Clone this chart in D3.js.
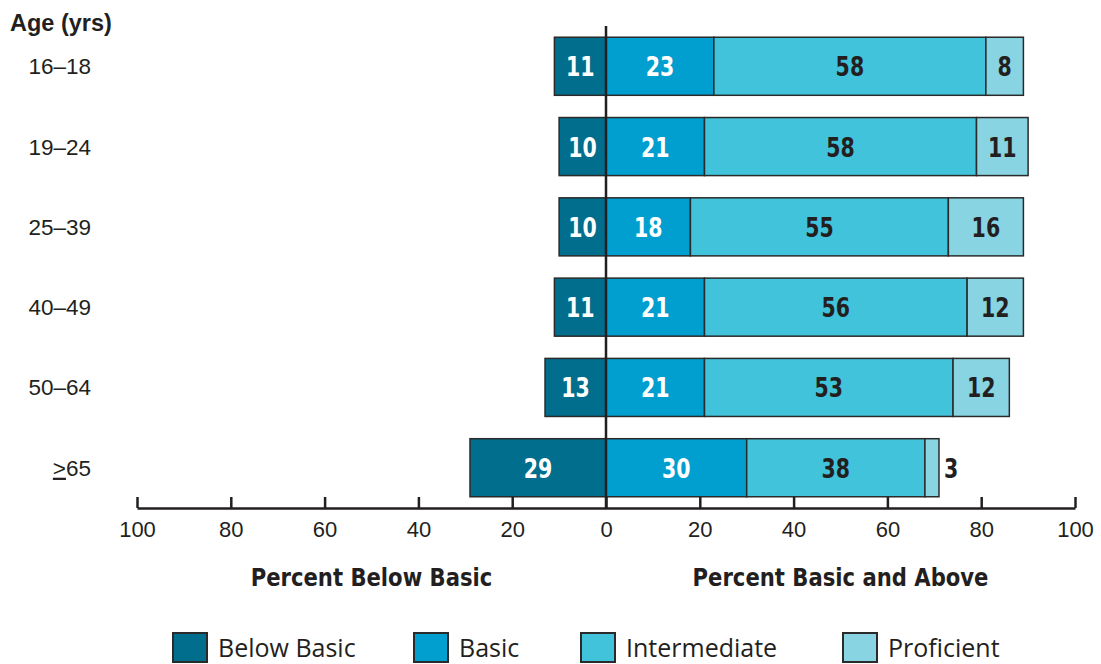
<!DOCTYPE html>
<html><head><meta charset="utf-8">
<script src="https://cdn.jsdelivr.net/npm/d3@7"></script>
<style>body{margin:0;background:#fff}svg{display:block}</style>
</head><body><svg id="c" width="1101" height="664"></svg>
<script>
const ages = ["16–18","19–24","25–39","40–49","50–64","≥65"];
const belowBasic = [11,10,10,11,13,29];
const basic = [23,21,18,21,21,30];
const intermediate = [58,58,55,56,53,38];
const proficient = [8,11,16,12,12,3];
const ticks = [-100,-80,-60,-40,-20,0,20,40,60,80,100];
const seriesNames = ["Below Basic","Basic","Intermediate","Proficient"];
const colors = ["#006e8c","#009fcf","#40c3db","#88d4e3"];

const svg = d3.select("#c");
const x = d3.scaleLinear().domain([-100,100]).range([137,1075]);
const y = d3.scaleBand().domain(ages).range([26,508]).paddingInner(0.277).paddingOuter(0.14);
const dark = "#231f20";
const bold = "'DejaVu Sans',sans-serif";

const rows = ages.map((a,i)=>({age:a, vals:[belowBasic[i],basic[i],intermediate[i],proficient[i]]}));

rows.forEach((r,i)=>{
  const g = svg.append("g");
  const segs = [];
  segs.push({k:0, x0:-r.vals[0], x1:0, v:r.vals[0]});
  let c = 0;
  for(let k=1;k<4;k++){ segs.push({k, x0:c, x1:c+r.vals[k], v:r.vals[k]}); c+=r.vals[k]; }
  g.selectAll("rect").data(segs).join("rect")
    .attr("x",d=>x(d.x0)).attr("width",d=>x(d.x1)-x(d.x0))
    .attr("y",y(r.age)).attr("height",y.bandwidth())
    .attr("fill",d=>colors[d.k]).attr("stroke","#2a2a2a").attr("stroke-width",1.5);
  const cy = y(r.age)+y.bandwidth()/2+10;
  g.selectAll("text").data(segs).join("text")
    .attr("transform",d=>{
      const w = x(d.x1)-x(d.x0);
      const tx = w < 20 ? x(d.x1)+5 : (x(d.x0)+x(d.x1))/2;
      return `translate(${tx},${cy}) scale(0.76,1)`;
    })
    .attr("text-anchor",d=> (x(d.x1)-x(d.x0) < 20) ? "start" : "middle")
    .attr("font-family",bold).attr("font-weight","bold").attr("font-size",27)
    .attr("fill",d=>d.k<2?"#fff":dark)
    .text(d=>d.v);
  const t = svg.append("text").attr("x",91).attr("text-anchor","end").attr("y",y(r.age)+y.bandwidth()/2+8)
    .attr("font-family","'Liberation Sans',Arial,sans-serif").attr("font-size",22.5).attr("fill",dark);
  if(r.age.startsWith("≥")){
    t.append("tspan").attr("text-decoration","underline").text(">");
    t.append("tspan").text(r.age.slice(1));
  } else t.text(r.age);
});

svg.append("text").attr("x",10).attr("y",31).attr("font-family","'Liberation Sans',Arial,sans-serif")
  .attr("font-weight","bold").attr("font-size",23.5).attr("fill",dark).text("Age (yrs)");

svg.append("line").attr("x1",x(0)).attr("x2",x(0)).attr("y1",26).attr("y2",508)
  .attr("stroke",dark).attr("stroke-width",2.5);

const axis = d3.axisBottom(x).tickValues(ticks).tickFormat(d=>Math.abs(d)).tickSizeInner(-11).tickSizeOuter(0).tickPadding(29);
const ag = svg.append("g").attr("transform","translate(0,508)").call(axis);
ag.select(".domain").attr("stroke",dark).attr("stroke-width",2.5);
ag.selectAll(".tick line").attr("stroke",dark).attr("stroke-width",2.5);
ag.selectAll(".tick text").attr("font-family","'Liberation Sans',Arial,sans-serif").attr("font-size",22).attr("fill",dark).attr("dy","0");

[["Percent Below Basic",-50],["Percent Basic and Above",50]].forEach(([s,v])=>{
  svg.append("text").attr("transform",`translate(${x(v)},586) scale(0.83,1)`).attr("text-anchor","middle")
    .attr("font-family",bold).attr("font-weight","bold").attr("font-size",25.5).attr("fill",dark).text(s);
});

const legX = [173,414,581,843];
const lg = svg.append("g");
seriesNames.forEach((n,i)=>{
  lg.append("rect").attr("x",legX[i]).attr("y",633).attr("width",34).attr("height",29)
    .attr("fill",colors[i]).attr("stroke","#2a2a2a").attr("stroke-width",2);
  lg.append("text").attr("x",legX[i]+45).attr("y",657)
    .attr("font-family","'Open Sans','Noto Sans',sans-serif").attr("font-size",25).attr("fill",dark).text(n);
});
</script></body></html>
